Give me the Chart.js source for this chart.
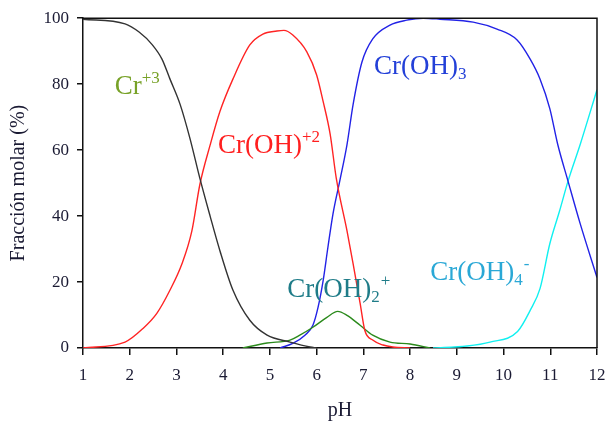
<!DOCTYPE html>
<html>
<head>
<meta charset="utf-8">
<script src="https://cdn.jsdelivr.net/npm/chart.js@4"></script>
<style>
  html, body { margin: 0; padding: 0; background: #fff; }
  #wrap { width: 608px; height: 425px; }
</style>
</head>
<body>
<div id="wrap"><canvas id="chart"></canvas></div>
<script>
// values (pH vs % molar fraction)
const cr3Ph = [1, 1.9, 2.2, 2.48, 2.69, 2.86, 3.08, 3.29, 3.5, 3.72, 3.93, 4.21, 4.57, 4.94, 5.43, 5.86, 6.0];
const cr3Val = [99.7, 98.3, 95.8, 92, 87.6, 81.6, 73.8, 63.5, 51.5, 40, 29.5, 17.5, 8.4, 3.9, 1.8, 0.3, 0];

const crOHPh = [1, 1.9, 2.29, 2.58, 2.86, 3.12, 3.33, 3.5, 3.72, 3.93, 4.21, 4.57, 4.85, 5.15, 5.3, 5.49, 5.79, 6.0, 6.14, 6.29, 6.42, 6.65, 6.78, 6.93, 7.03, 7.2, 7.42, 7.63, 8.0];
const crOHVal = [0, 1.8, 6, 10.5, 17.5, 25.6, 35.5, 49.5, 61.5, 71.7, 81.6, 91.9, 95.2, 96.1, 96.3, 94.9, 89.8, 82.8, 74.7, 64.8, 51.5, 35.5, 25.6, 13.6, 5.4, 2.4, 0.9, 0.3, 0];

const crOH2Ph = [4.42, 4.94, 5.43, 5.64, 5.92, 6.22, 6.45, 6.65, 6.93, 7.2, 7.57, 8.0, 8.43];
const crOH2Val = [0, 1.5, 2.4, 3.9, 6.3, 9.3, 11.1, 9.9, 6.9, 3.9, 1.8, 1.2, 0];

const crOH3Ph = [5.22, 5.5, 5.75, 5.92, 6.03, 6.14, 6.24, 6.35, 6.5, 6.65, 6.78, 6.97, 7.2, 7.57, 7.93, 8.28, 8.64, 9.35, 9.86, 10.29, 10.57, 10.78, 10.99, 11.16, 11.38, 11.64, 12];
const crOH3Val = [0, 1.5, 3.9, 6.9, 12.3, 20.5, 30.4, 40.7, 51, 61.7, 73.8, 86.7, 93.7, 97.9, 99.4, 100, 99.7, 98.8, 96.7, 93.4, 87.6, 81.6, 72.6, 61.7, 50.6, 37.7, 21.4];

const crOH4Ph = [8.49, 9.22, 9.71, 10.3, 10.57, 10.78, 10.99, 11.2, 11.38, 11.64, 12];
const crOH4Val = [0, 0.6, 1.8, 5, 11.4, 18, 31.6, 41.6, 50.6, 61.7, 78.3];

const xTicks = [1, 2, 3, 4, 5, 6, 7, 8, 9, 10, 11, 12];
const yTicks = [0, 20, 40, 60, 80, 100];

const serif = "'Liberation Serif', 'Times New Roman', serif";

const toPoints = (xs, ys) => xs.map((x, i) => ({x: x, y: ys[i]}));

const line = (label, xs, ys, color) => ({
    label: label,
    data: toPoints(xs, ys),
    borderColor: color,
    borderWidth: 1.4,
    pointRadius: 0,
    fill: false,
    cubicInterpolationMode: 'monotone'
});

// species labels drawn in data units; parts: [text, 0 normal / 1 sup / -1 sub]
const speciesLabels = [
    {parts: [['Cr', 0], ['+3', 1]], color: '#78a228', x: 1.68, y: 77.1},
    {parts: [['Cr(OH)', 0], ['+2', 1]], color: '#ff1f1f', x: 3.89, y: 59.0},
    {parts: [['Cr(OH)', 0], ['3', -1]], color: '#2340d8', x: 7.23, y: 83.1},
    {parts: [['Cr(OH)', 0], ['2', -1], ['+', 1]], color: '#1f7c88', x: 5.37, y: 15.4},
    {parts: [['Cr(OH)', 0], ['4', -1], ['-', 1]], color: '#2aa8d6', x: 8.43, y: 20.5}
];

const labelPlugin = {
    id: 'speciesLabels',
    afterDatasetsDraw(chart) {
        const ctx = chart.ctx;
        const xs = chart.scales.x, ys = chart.scales.y;
        ctx.save();
        ctx.textBaseline = 'alphabetic';
        ctx.textAlign = 'left';
        speciesLabels.forEach(l => {
            let px = xs.getPixelForValue(l.x);
            const py = ys.getPixelForValue(l.y);
            ctx.fillStyle = l.color;
            l.parts.forEach(([t, k]) => {
                if (k === 0) {
                    ctx.font = '27px ' + serif;
                    ctx.fillText(t, px, py);
                    px += ctx.measureText(t).width;
                } else {
                    ctx.font = '17px ' + serif;
                    const dy = k > 0 ? -11 : 5;
                    const sx = (k > 0 && l.parts.length === 3) ? px + 1 : px;
                    ctx.fillText(t, sx, py + dy);
                    px = sx + ctx.measureText(t).width;
                }
            });
        });
        ctx.restore();
    }
};

const framePlugin = {
    id: 'frame',
    afterDraw(chart) {
        const a = chart.chartArea, ctx = chart.ctx;
        ctx.save();
        ctx.strokeStyle = '#111';
        ctx.lineWidth = 1.5;
        ctx.beginPath();
        ctx.moveTo(a.left, a.top);
        ctx.lineTo(a.right, a.top);
        ctx.lineTo(a.right, a.bottom);
        ctx.stroke();
        ctx.restore();
    }
};

new Chart(document.getElementById('chart').getContext('2d'), {
    type: 'line',
    data: {
        datasets: [
            line('Cr+3', cr3Ph, cr3Val, '#333333'),
            line('Cr(OH)+2', crOHPh, crOHVal, '#ff2424'),
            line('Cr(OH)2+', crOH2Ph, crOH2Val, '#2b8a1c'),
            line('Cr(OH)3', crOH3Ph, crOH3Val, '#2222e6'),
            line('Cr(OH)4-', crOH4Ph, crOH4Val, '#10f0f0')
        ]
    },
    options: {
        responsive: true,
        maintainAspectRatio: false,
        animation: false,
        layout: {padding: {top: 16, right: 11, bottom: 0, left: 0}},
        plugins: {legend: {display: false}, tooltip: {enabled: false}},
        scales: {
            x: {
                type: 'linear',
                min: 1,
                max: 12,
                afterFit: s => { s.height = 77; s.paddingLeft = 0; s.paddingRight = 8; },
                afterBuildTicks: s => { s.ticks = xTicks.map(v => ({value: v})); },
                grid: {drawOnChartArea: false, tickLength: 7, color: '#111', lineWidth: 1.5},
                border: {color: '#111', width: 1.5},
                ticks: {padding: 10, color: '#1a1a33', font: {family: serif, size: 17}, maxRotation: 0},
                title: {display: true, text: 'pH', color: '#1a1a33', font: {family: serif, size: 20}, padding: {top: 0, bottom: 2}}
            },
            y: {
                min: 0,
                max: 100,
                afterFit: s => { s.width = 83; },
                afterBuildTicks: s => { s.ticks = yTicks.map(v => ({value: v})); },
                grid: {drawOnChartArea: false, tickLength: 6, color: '#111', lineWidth: 1.5},
                border: {color: '#111', width: 1.5},
                ticks: {padding: 8, color: '#1a1a33', font: {family: serif, size: 17}},
                title: {display: true, text: 'Fracción molar (%)', color: '#1a1a33', font: {family: serif, size: 20}, padding: {top: 7, bottom: 0}}
            }
        }
    },
    plugins: [labelPlugin, framePlugin]
});
</script>
</body>
</html>
